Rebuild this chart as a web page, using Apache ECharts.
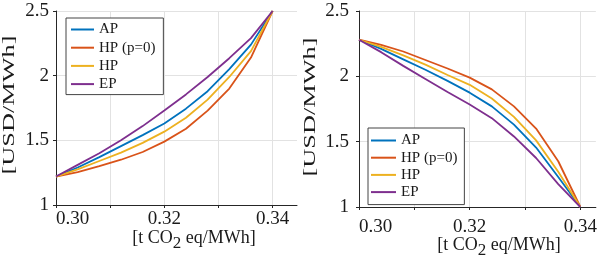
<!DOCTYPE html>
<html>
<head>
<meta charset="utf-8">
<script src="https://cdn.jsdelivr.net/npm/echarts@6/dist/echarts.min.js"></script>
<style>
  html, body { margin: 0; padding: 0; background: #fff; }
  #chart { width: 600px; height: 260px; }
</style>
</head>
<body>
<div id="chart"></div>
<script>
// 数据：两幅子图共用的横坐标
const xValues = [0.300, 0.304, 0.308, 0.312, 0.316, 0.320, 0.324, 0.328, 0.332, 0.336, 0.340];
const seriesNames = ['AP', 'HP (p=0)', 'HP', 'EP'];
const seriesColors = ['#0072BD', '#D95319', '#EDB120', '#7E2F8E'];

// 左图
const leftAP  = [1.22, 1.29, 1.37, 1.455, 1.54, 1.63, 1.745, 1.88, 2.05, 2.24, 2.50];
const leftHP0 = [1.22, 1.255, 1.30, 1.35, 1.41, 1.49, 1.59, 1.73, 1.90, 2.14, 2.50];
const leftHP  = [1.22, 1.275, 1.34, 1.405, 1.48, 1.567, 1.675, 1.815, 1.99, 2.19, 2.50];
const leftEP  = [1.22, 1.31, 1.40, 1.50, 1.61, 1.73, 1.855, 1.99, 2.135, 2.29, 2.50];

// 右图
const rightAP  = [2.28, 2.21, 2.13, 2.05, 1.965, 1.875, 1.77, 1.63, 1.455, 1.23, 1.00];
const rightHP0 = [2.28, 2.24, 2.19, 2.125, 2.06, 1.99, 1.90, 1.77, 1.60, 1.35, 1.00];
const rightHP  = [2.28, 2.225, 2.16, 2.09, 2.01, 1.935, 1.83, 1.69, 1.51, 1.27, 1.00];
const rightEP  = [2.28, 2.185, 2.08, 1.98, 1.88, 1.785, 1.68, 1.54, 1.375, 1.175, 1.00];

const yTicks = [1, 1.5, 2, 2.5];
const xLabelTicks = ['0.30', '0.32', '0.34'];

const FONT = '"Liberation Serif", "Times New Roman", serif';
const TEXT = '#1a1a1a';

function toPairs(arr) {
  return xValues.map(function(x, i) { return [x, arr[i]]; });
}

function makeX(gridIndex, max, margin) {
  return {
    type: 'value', gridIndex: gridIndex,
    min: 0.30, max: max, interval: 0.01,
    axisLine: { show: true, lineStyle: { color: '#262626', width: 1 } },
    axisTick: { show: true, length: 3, lineStyle: { color: '#262626' } },
    axisLabel: {
      margin: margin, fontFamily: FONT, fontSize: 19, color: TEXT,
      showMaxLabel: false, alignMinLabel: 'left',
      formatter: function(v) {
        const s = v.toFixed(2);
        return xLabelTicks.indexOf(s) >= 0 && Math.abs(v - Number(s)) < 1e-6 ? s : '';
      }
    },
    splitLine: { show: true, showMaxLine: false, lineStyle: { color: '#e2e2e2', width: 1 } }
  };
}

function makeY(gridIndex, margin) {
  return {
    type: 'value', gridIndex: gridIndex,
    min: yTicks[0], max: yTicks[yTicks.length - 1], interval: 0.5,
    axisLine: { show: true, lineStyle: { color: '#262626', width: 1 } },
    axisTick: { show: true, length: 3, lineStyle: { color: '#262626' } },
    axisLabel: { margin: margin, fontFamily: FONT, fontSize: 19, color: TEXT },
    splitLine: { show: true, lineStyle: { color: '#e2e2e2', width: 1 } }
  };
}

const leftData = [leftAP, leftHP0, leftHP, leftEP];
const rightData = [rightAP, rightHP0, rightHP, rightEP];

const series = [];
[leftData, rightData].forEach(function(group, g) {
  group.forEach(function(arr, i) {
    series.push({
      name: seriesNames[i], type: 'line',
      xAxisIndex: g, yAxisIndex: g,
      data: toPairs(arr),
      symbol: 'none', smooth: false,
      lineStyle: { color: seriesColors[i], width: 1.8 },
      itemStyle: { color: seriesColors[i] },
      animation: false
    });
  });
});

function makeLegend(left, top, padding, gap, iconW, textGap) {
  return {
    left: left, top: top, orient: 'vertical',
    data: seriesNames,
    icon: 'rect',
    padding: padding, itemGap: gap,
    itemWidth: iconW, itemHeight: 2, itemTextGap: textGap,
    backgroundColor: '#fff', borderColor: '#444', borderWidth: 1, borderRadius: 0,
    textStyle: { fontFamily: FONT, fontSize: 15, color: TEXT, lineHeight: 14, height: 14 },
    selectedMode: false
  };
}

function yName(x, y) {
  return {
    type: 'text', x: x, y: y, rotation: Math.PI / 2, scaleX: 1.55,
    style: {
      text: '[USD/MWh]', font: '17px ' + FONT, fill: TEXT,
      align: 'center', verticalAlign: 'middle'
    }
  };
}

function xName(x, y) {
  return {
    type: 'text', x: x, y: y,
    style: {
      text: '[t CO{sub|2} eq/MWh]', font: '18px ' + FONT, fill: TEXT,
      align: 'center', verticalAlign: 'middle', lineHeight: 28,
      rich: { sub: { fontSize: 17, fontFamily: FONT, fill: TEXT, verticalAlign: 'bottom', lineHeight: 28 } }
    }
  };
}

const chart = echarts.init(document.getElementById('chart'), null, { renderer: 'canvas' });
chart.setOption({
  backgroundColor: '#fff',
  animation: false,
  grid: [
    { left: 56, top: 11, width: 241, height: 194 },
    { left: 359, top: 11, width: 238, height: 196 }
  ],
  xAxis: [makeX(0, 0.3445, 5), makeX(1, 0.3428, 11)],
  yAxis: [makeY(0, 7), makeY(1, 10)],
  legend: [
    makeLegend(66, 18, [4, 8, 3, 5], 3.2, 23, 2),
    makeLegend(368, 128, [5, 7, 5, 3], 2.2, 25, 4)
  ],
  graphic: [yName(10, 105), yName(311, 107), xName(194, 238), xName(499, 245)],
  series: series
});
</script>
</body>
</html>
